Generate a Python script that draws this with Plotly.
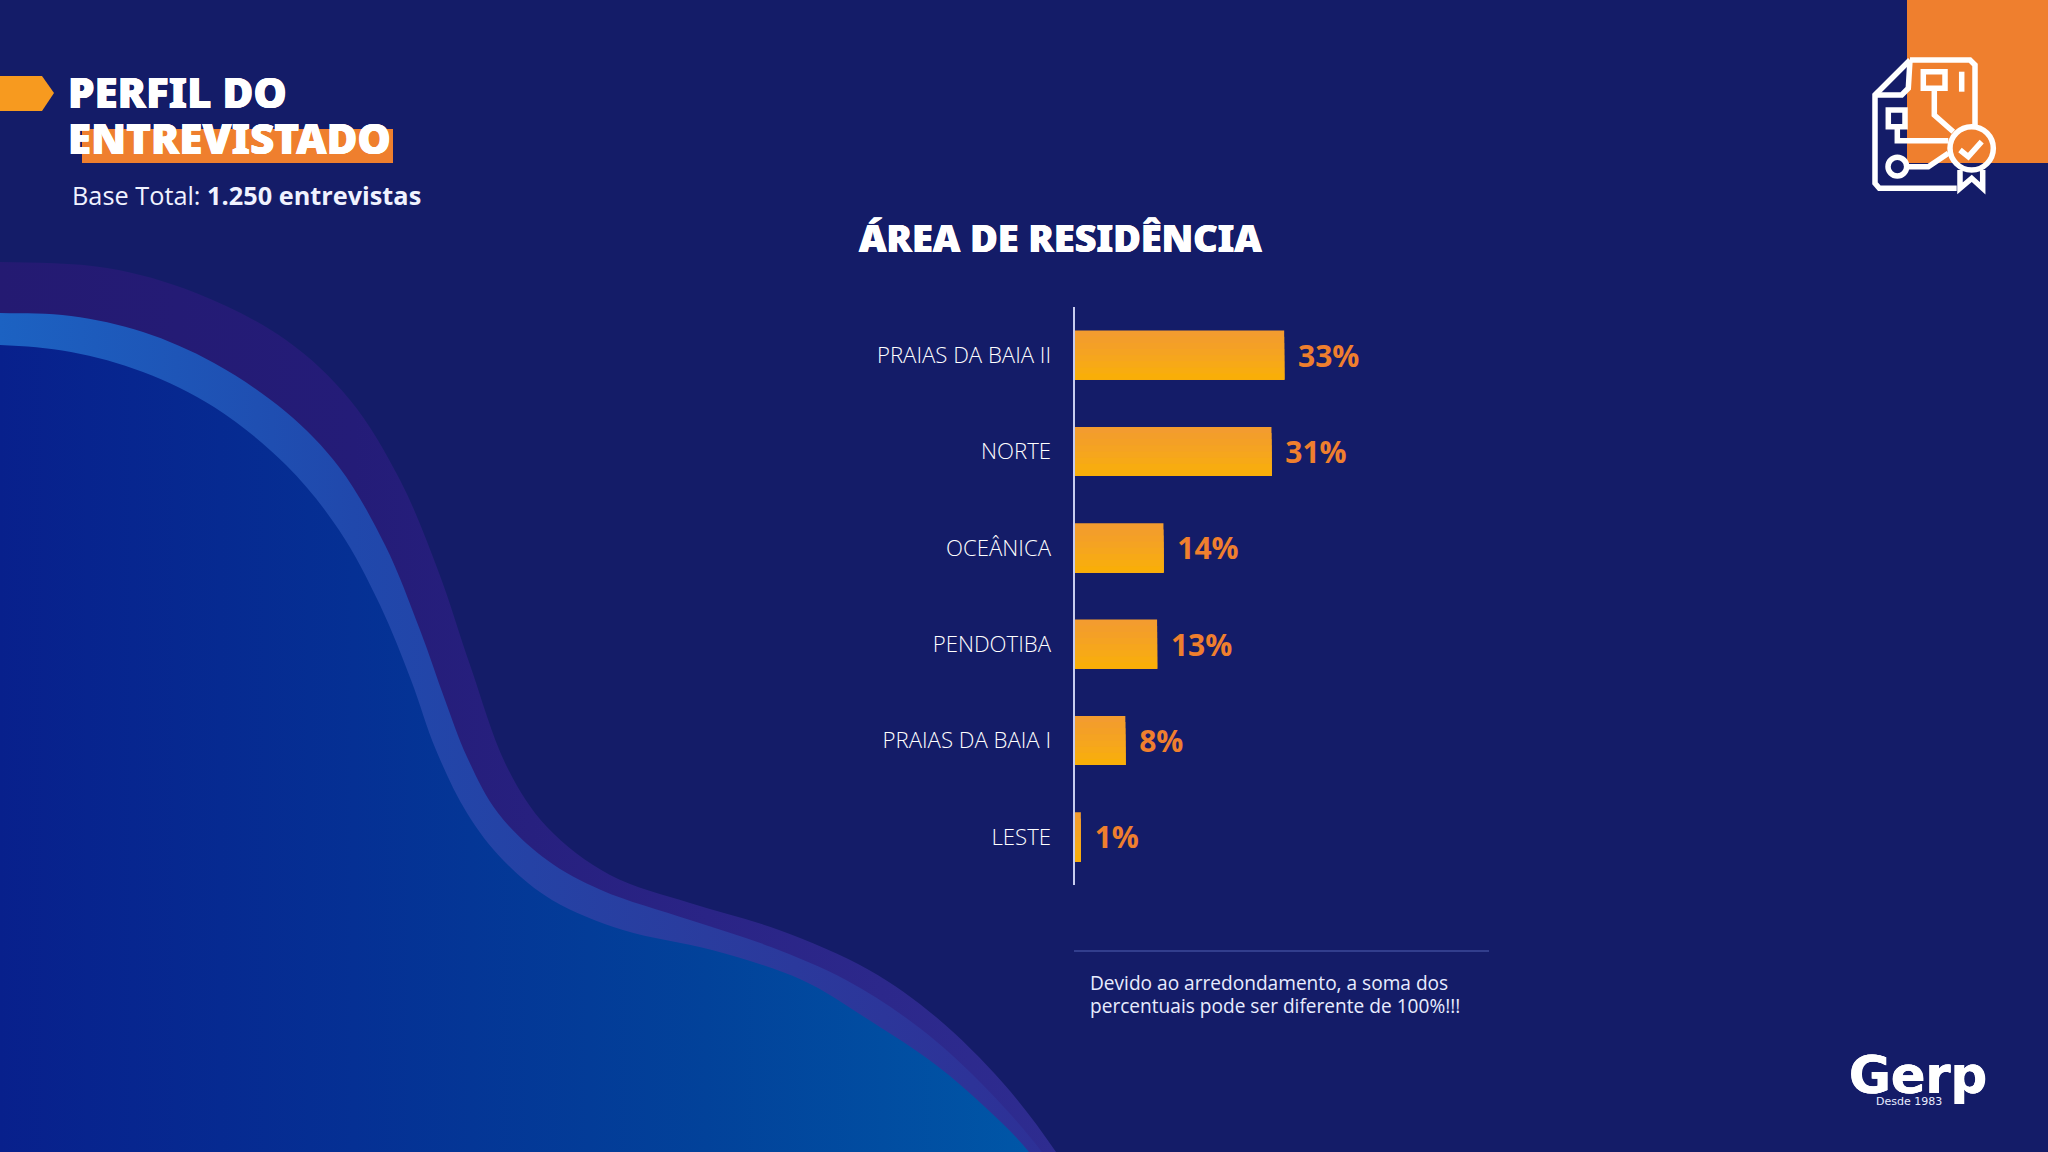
import plotly.graph_objects as go

# ---------- data ----------
categories = ["PRAIAS DA BAIA II", "NORTE", "OCEÂNICA", "PENDOTIBA", "PRAIAS DA BAIA I", "LESTE"]
values = [33, 31, 14, 13, 8, 1]

BG = "#141C68"
ORANGE = "#EF7F2E"
BAR_SHADES = ["#F39C2F", "#F39E2A", "#F4A026", "#F5A322", "#F6A61D", "#F7A917", "#F8AC10", "#F9AE08"]
FONT = "Open Sans"
W, H = 2048, 1152
BAR_WIDTH = 0.51

# decorative background curves (pixel coordinates of the slide)
outer_x = [-100, 0, 107, 196, 286, 350, 400, 439, 470, 507, 547, 610, 690, 779, 869, 936, 1003, 1056, 1110]
outer_y = [262, 262, 268, 293, 340, 400, 480, 573, 665, 767, 827, 875, 903, 930, 970, 1017, 1083, 1152, 1240]
mid_x = [-100, 0, 71, 143, 214, 286, 339, 385, 420, 445, 467, 498, 547, 601, 690, 771, 846, 913, 971, 1042, 1100]
mid_y = [313, 313, 316, 332, 363, 412, 467, 545, 630, 700, 757, 813, 860, 890, 920, 947, 980, 1023, 1073, 1152, 1240]
inner_x = [-100, 0, 71, 143, 214, 286, 339, 380, 411, 436, 467, 503, 552, 623, 712, 802, 869, 936, 985, 1029, 1090]
inner_y = [345, 345, 352, 372, 407, 465, 530, 605, 680, 750, 813, 860, 900, 930, 950, 980, 1020, 1065, 1107, 1152, 1240]

def wave(xs, ys, stops):
    n = len(stops) - 1
    return go.Scatter(
        x=xs + [1300, -100, -100], y=ys + [1300, 1300, ys[0]],
        xaxis="x", yaxis="y", mode="lines", fill="toself",
        line=dict(width=0, shape="spline", smoothing=1.0),
        fillgradient=dict(type="horizontal", start=0, stop=1060,
                          colorscale=[[i / n, c] for i, c in enumerate(stops)]),
        hoverinfo="skip", showlegend=False,
    )

fig = go.Figure()
fig.add_trace(wave(outer_x, outer_y, ["#241A72", "#241C78", "#2A2486", "#2E2C90"]))
fig.add_trace(wave(mid_x, mid_y, ["#1C62C2", "#2048AC", "#2A3C9E", "#2E3096"]))
fig.add_trace(wave(inner_x, inner_y, ["#08208C", "#053094", "#02429A", "#0058A8"]))

# the bars: base trace carries the labels, later traces shade it from top to bottom
for k, shade in enumerate(BAR_SHADES):
    step = BAR_WIDTH / len(BAR_SHADES)
    first = k == 0
    fig.add_trace(go.Bar(
        y=categories, x=values, orientation="h", xaxis="x2", yaxis="y2",
        width=BAR_WIDTH - k * step, offset=-BAR_WIDTH / 2 + k * step,
        marker=dict(color=shade, line=dict(width=0)),
        text=[f"\u00a0\u200a{v}%" for v in values] if first else None,
        textposition="outside" if first else None, cliponaxis=False,
        textfont=dict(family=FONT, size=30, color=ORANGE, weight=700),
        hoverinfo="skip", showlegend=False,
    ))

def ix(z): return 1820 + z / 3
def iy(z): return z / 3

def poly(points, close=False):
    d = "M " + " L ".join(f"{ix(a):.1f} {iy(b):.1f}" for a, b in points)
    return d + (" Z" if close else "")

WHITE_LINE = dict(color="white", width=5.5)
shapes = [
    dict(type="rect", x0=1907, x1=2048, y0=0, y1=163, fillcolor=ORANGE, line_width=0, layer="below"),
    dict(type="rect", x0=82, x1=393, y0=129, y1=163, fillcolor=ORANGE, line_width=0, layer="below"),
    dict(type="path", path="M 0 76 L 42 76 L 54 93 L 42 111 L 0 111 Z", fillcolor="#F79A1F", line_width=0, layer="below"),
    dict(type="line", x0=1074, x1=1489, y0=951, y1=951, line=dict(color="#3D4A9A", width=1.5), layer="below"),
]
icon_paths = [
    poly([(270, 180), (450, 180), (465, 195), (465, 380)]),
    poly([(270, 180), (165, 285), (165, 550), (178, 565), (410, 565)]),
    poly([(270, 180), (265, 265), (245, 285), (165, 285)]),
    poly([(310, 215), (375, 215), (375, 265), (310, 265)], True),
    poly([(425, 215), (425, 275)]),
    poly([(343, 265), (343, 345), (400, 395)]),
    poly([(205, 330), (255, 330), (255, 380), (205, 380)], True),
    poly([(232, 380), (232, 422), (385, 422)]),
    poly([(260, 500), (325, 500), (385, 460)]),
    poly([(420, 450), (445, 470), (485, 425)]),
    poly([(420, 510), (420, 565), (455, 535), (488, 565), (488, 510)]),
]
for p in icon_paths:
    shapes.append(dict(type="path", path=p, line=WHITE_LINE, layer="above"))
shapes.append(dict(type="circle", x0=ix(204), x1=ix(260), y0=iy(472), y1=iy(528), line=WHITE_LINE, layer="above"))
shapes.append(dict(type="circle", x0=ix(390), x1=ix(520), y0=iy(380), y1=iy(510), line=WHITE_LINE, layer="above"))
for s in shapes:
    s["xref"] = "x"
    s["yref"] = "y"

THICK = "0.4px 0 0 white, -0.4px 0 0 white"

def note(text, x, y, size, color="white", weight=400, family=FONT, anchor="left", shadow=None):
    font = dict(family=family, size=size, color=color, weight=weight)
    if shadow:
        font["shadow"] = shadow
    return dict(text=text, x=x, y=y, xref="x", yref="y", xanchor=anchor, yanchor="middle",
                showarrow=False, font=font)

annotations = [
    note("PERFIL DO", 66, 91.5, 42, weight=900, family="Noto Sans", shadow=THICK),
    note("ENTREVISTADO", 66, 137, 42, weight=900, family="Noto Sans", shadow=THICK),
    note("Base Total: <b>1.250 entrevistas</b>", 70, 195, 25.3, color="#F0F2FF"),
    note("ÁREA DE RESIDÊNCIA", 857, 237, 37.8, weight=900, family="Noto Sans", shadow=THICK),
    note("Devido ao arredondamento, a soma dos", 1088, 983, 19.1, color="#E8ECFF"),
    note("percentuais pode ser diferente de 100%!!!", 1088, 1006, 19.1, color="#E8ECFF"),
    note("Gerp", 1847, 1075, 51, weight=700, family="DejaVu Sans", shadow=THICK),
    note("Desde 1983", 1909, 1101, 11, color="#E8ECFF", family="DejaVu Sans", anchor="center"),
]

fig.update_layout(
    width=W, height=H, margin=dict(l=0, r=0, t=0, b=0),
    paper_bgcolor=BG, plot_bgcolor="rgba(0,0,0,0)", showlegend=False,
    barmode="overlay", shapes=shapes, annotations=annotations,
    xaxis=dict(domain=[0, 1], range=[0, W], visible=False, fixedrange=True),
    yaxis=dict(domain=[0, 1], range=[H, 0], visible=False, fixedrange=True),
    xaxis2=dict(domain=[1074.5 / W, 1487.5 / W], range=[0, 65], anchor="y2", visible=False),
    yaxis2=dict(domain=[(H - 885) / H, (H - 307) / H], anchor="x2", autorange="reversed",
                type="category", showline=True, linecolor="#C8CCEE", linewidth=2, ticks="",
                showgrid=False, ticklabelstandoff=17,
                tickfont=dict(family=FONT, size=22.2, color="white", weight=300)),
)

fig.write_html("out.html", config={"displayModeBar": False},
               post_script="document.body.style.margin='0';document.body.style.background='#141C68';")
